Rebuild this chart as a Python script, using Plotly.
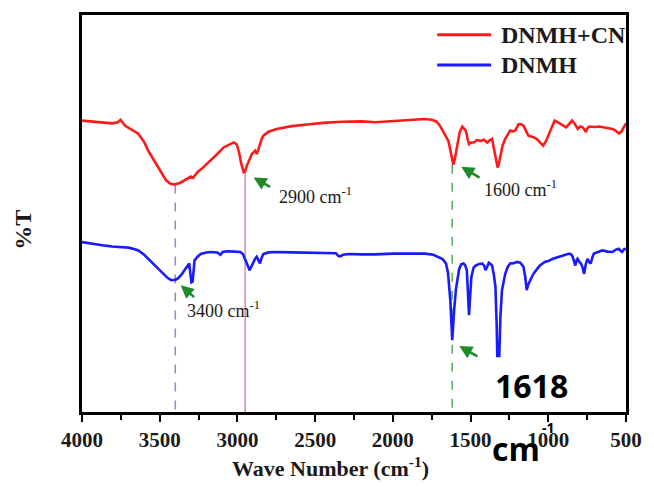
import plotly.graph_objects as go

# FTIR spectra: wavenumber (cm-1) and transmittance (%T, arbitrary offset scale)
red_wn = [4000, 3890, 3805, 3770, 3752, 3722, 3680, 3638, 3600, 3574, 3540, 3511, 3480, 3458,
          3430, 3405, 3370, 3341, 3320, 3299, 3285, 3257, 3215, 3172, 3130, 3087, 3050, 3024,
          3005, 2990, 2975, 2960, 2950, 2939, 2920, 2907, 2886, 2876, 2868, 2859, 2845, 2833,
          2800, 2748, 2650, 2537, 2430, 2325, 2200, 2113, 2000, 1900, 1795, 1750, 1721, 1700,
          1679, 1660, 1643, 1625, 1611, 1600, 1588, 1570, 1553, 1540, 1531, 1520, 1510, 1495,
          1478, 1460, 1436, 1415, 1393, 1375, 1362, 1347, 1335, 1326, 1318, 1309, 1295, 1277,
          1260, 1245, 1230, 1213, 1200, 1192, 1175, 1160, 1145, 1128, 1100, 1075, 1055, 1033,
          1015, 1001, 980, 959, 940, 916, 900, 885, 865, 847, 830, 810, 795, 779, 768, 758,
          748, 736, 700, 673, 630, 588, 565, 546, 530, 514, 500]
red_t = [73.4, 72.9, 72.7, 73.0, 73.6, 72.1, 71.2, 70.1, 68.0, 65.8, 63.6, 61.6, 59.7, 58.3,
         57.5, 57.3, 57.7, 58.3, 58.7, 59.3, 59.0, 60.4, 61.8, 63.3, 65.0, 66.7, 67.5, 67.9,
         67.4, 65.5, 62.5, 60.4, 60.6, 62.1, 63.8, 65.0, 65.8, 65.0, 65.8, 67.1, 68.7, 69.6,
         70.6, 71.3, 72.0, 72.5, 72.9, 73.1, 73.2, 73.0, 73.3, 73.6, 73.8, 73.6, 73.2, 72.3,
         70.9, 69.5, 68.3, 65.0, 62.3, 64.0, 66.7, 70.5, 71.9, 71.3, 70.9, 69.0, 67.5, 67.9,
         67.9, 68.5, 68.3, 68.6, 67.9, 68.5, 68.8, 65.8, 63.0, 61.6, 62.5, 64.6, 67.0, 68.8,
         70.0, 70.9, 70.7, 70.9, 71.8, 72.5, 72.5, 72.1, 71.0, 69.6, 69.3, 68.8, 68.0, 67.1,
         68.2, 69.6, 71.8, 73.4, 73.0, 72.5, 72.0, 71.7, 72.6, 73.4, 72.6, 71.3, 71.9, 71.7,
         71.2, 70.5, 71.5, 71.9, 71.8, 71.9, 71.6, 71.3, 70.8, 70.2, 70.6, 71.7, 72.7]

blue_wn = [4000, 3913, 3850, 3807, 3750, 3701, 3660, 3638, 3600, 3553, 3515, 3479, 3450, 3426,
           3400, 3384, 3360, 3341, 3320, 3310, 3303, 3296, 3288, 3280, 3276, 3255, 3236, 3200,
           3172, 3130, 3109, 3095, 3066, 3020, 2982, 2965, 2950, 2935, 2922, 2910, 2897, 2886,
           2876, 2865, 2855, 2845, 2833, 2800, 2748, 2650, 2537, 2420, 2367, 2350, 2340, 2320,
           2283, 2200, 2113, 2000, 1900, 1795, 1740, 1711, 1680, 1658, 1645, 1630, 1618, 1605,
           1594, 1573, 1560, 1545, 1535, 1524, 1515, 1510, 1503, 1495, 1480, 1467, 1445, 1425,
           1412, 1404, 1393, 1383, 1370, 1362, 1350, 1340, 1332, 1326, 1320, 1314, 1308, 1298,
           1288, 1277, 1260, 1245, 1220, 1202, 1180, 1160, 1148, 1139, 1130, 1118, 1100, 1086,
           1070, 1054, 1023, 1000, 970, 950, 927, 900, 864, 850, 843, 835, 826, 818, 812, 800,
           790, 780, 769, 760, 748, 737, 727, 716, 706, 680, 652, 620, 588, 565, 546, 535, 525,
           512, 500]
blue_t = [42.8, 42.2, 41.9, 41.7, 41.5, 41.4, 41.0, 40.7, 39.6, 37.8, 36.2, 34.8, 33.8, 33.2,
          33.3, 33.6, 34.6, 35.7, 36.8, 37.4, 35.0, 32.7, 32.9, 36.5, 38.2, 39.2, 39.8, 40.2,
          40.3, 40.2, 39.6, 40.3, 40.5, 40.4, 40.3, 39.8, 38.6, 37.0, 35.7, 36.7, 37.8, 38.6,
          39.1, 38.2, 37.4, 38.8, 39.8, 40.2, 40.3, 40.2, 40.1, 40.0, 40.0, 39.3, 39.2, 39.6,
          39.8, 39.7, 39.7, 39.9, 39.9, 39.9, 39.6, 39.1, 38.5, 37.4, 35.0, 28.0, 18.1, 26.0,
          31.0, 36.1, 37.2, 37.4, 37.0, 35.7, 29.0, 24.4, 29.0, 34.0, 36.4, 36.9, 37.3, 37.4,
          36.8, 35.7, 36.6, 37.6, 37.2, 36.9, 34.5, 31.5, 22.0, 10.0, 8.0, 16.0, 24.0, 30.7,
          33.2, 34.8, 36.6, 37.4, 37.5, 37.8, 37.6, 36.6, 34.0, 30.7, 32.0, 33.2, 34.5, 35.3,
          36.1, 36.9, 37.8, 38.0, 38.6, 38.9, 39.1, 39.5, 39.9, 39.6, 39.1, 38.0, 36.9, 38.2,
          38.6, 37.8, 37.4, 36.5, 34.8, 37.0, 38.6, 37.8, 37.4, 39.0, 39.9, 40.3, 40.7, 40.4,
          40.3, 40.9, 41.1, 40.6, 40.3, 41.0, 41.1]

series_names = ["DNMH+CN", "DNMH"]
series_colors = ["#ff1a1a", "#1a1aff"]

# Marker lines dropped from the DNMH+CN band minima to the axis
peak_wn = [3400, 2950, 1618]
peak_top = [57.3, 60.4, 62.3]
peak_colors = ["#a884c8", "#d98cc8", "#5cae62"]
peak_dash = ["dash", "solid", "dash"]

# Band labels: (text, x, y) and arrows: (head x, head y, tail x, tail y)
band_labels = [("2900 cm<sup>-1</sup>", 2748, 54.5),
               ("1600 cm<sup>-1</sup>", 1427, 56.3),
               ("3400 cm<sup>-1</sup>", 3339, 25.9)]
arrows = [(2897, 59.1, 2780, 56.5),
          (1560, 61.8, 1433, 58.8),
          (3365, 31.9, 3269, 28.6),
          (1573, 16.6, 1446, 13.8)]

x_ticks = [4000, 3500, 3000, 2500, 2000, 1500, 1000, 500]

serif = "Liberation Serif"
sans = "Open Sans"

fig = go.Figure()

for wn, top, col, dash in zip(peak_wn, peak_top, peak_colors, peak_dash):
    fig.add_trace(go.Scatter(x=[wn, wn], y=[top, 0], mode="lines",
                             line=dict(color=col, width=1.6, dash=dash),
                             showlegend=False, hoverinfo="skip"))

for wn, t, name, col in [(red_wn, red_t, series_names[0], series_colors[0]),
                         (blue_wn, blue_t, series_names[1], series_colors[1])]:
    fig.add_trace(go.Scatter(x=wn, y=t, mode="lines", name=name,
                             line=dict(color=col, width=2.6), showlegend=False))

annotations = []
for txt, x, y in band_labels:
    annotations.append(dict(x=x, y=y, xref="x", yref="y", text=txt, showarrow=False,
                            xanchor="left", yanchor="middle",
                            font=dict(family=serif, size=18, color="#1a1a1a")))
for hx, hy, tx, ty in arrows:
    annotations.append(dict(x=hx, y=hy, ax=tx, ay=ty, xref="x", yref="y",
                            axref="x", ayref="y", text="", showarrow=True,
                            arrowhead=2, arrowsize=1, arrowwidth=2.6,
                            arrowcolor="#1f8a2a"))

# White callout patch with the 1618 cm-1 label
shapes = [dict(type="rect", xref="x", yref="y", x0=1478, x1=893, y0=0.8, y1=13.8,
               fillcolor="white", line=dict(width=0), layer="above")]
annotations.append(dict(x=1107, y=6.8, xref="x", yref="y", text="1618", showarrow=False,
                        font=dict(family=sans, size=32, color="black", weight="bold")))
annotations.append(dict(x=0.798, y=-0.093, xref="paper", yref="paper", text="cm",
                        showarrow=False, xanchor="center", yanchor="middle",
                        font=dict(family=sans, size=32, color="black", weight="bold")))
annotations.append(dict(x=0.857, y=-0.038, xref="paper", yref="paper", text="-1",
                        showarrow=False, xanchor="center", yanchor="middle",
                        font=dict(family=sans, size=14, color="black", weight="bold")))

# Legend drawn in the upper-right corner
legend_y = [0.950, 0.874]
for yy, name, col in zip(legend_y, series_names, series_colors):
    shapes.append(dict(type="line", xref="paper", yref="paper", x0=0.653, x1=0.752,
                       y0=yy, y1=yy, line=dict(color=col, width=3)))
    annotations.append(dict(x=0.766, y=yy, xref="paper", yref="paper", text=name,
                            showarrow=False, xanchor="left", yanchor="middle",
                            font=dict(family=serif, size=24, color="#1a1a1a", weight="bold")))

# Axis titles
annotations.append(dict(x=0.4575, y=-0.138, xref="paper", yref="paper",
                        text="Wave Number (cm<sup>-1</sup>)", showarrow=False,
                        xanchor="center", yanchor="middle",
                        font=dict(family=serif, size=22, color="#1a1a1a", weight="bold")))
annotations.append(dict(x=-0.108, y=0.46, xref="paper", yref="paper", text="%T",
                        showarrow=False, textangle=-90, xanchor="center", yanchor="middle",
                        font=dict(family=serif, size=24, color="#1a1a1a", weight="bold")))

fig.update_layout(
    width=654, height=487,
    margin=dict(l=82, r=19, t=14, b=75),
    paper_bgcolor="white", plot_bgcolor="white",
    shapes=shapes, annotations=annotations,
    xaxis=dict(range=[4000, 500], tickvals=x_ticks, ticks="outside", ticklen=7,
               tickwidth=2, tickcolor="black", showline=True, linewidth=2.5,
               linecolor="black", mirror=True, showgrid=False, zeroline=False,
               ticklabelstandoff=0,
               tickfont=dict(family=serif, size=21, color="#1a1a1a", weight="bold"),
               minor=dict(dtick=250, ticks="outside", ticklen=5, tickwidth=2,
                          tickcolor="black", showgrid=False)),
    yaxis=dict(range=[0, 100], showticklabels=False, ticks="", showline=True,
               linewidth=2.5, linecolor="black", mirror=True, showgrid=False,
               zeroline=False),
)

fig.write_html("out.html")
